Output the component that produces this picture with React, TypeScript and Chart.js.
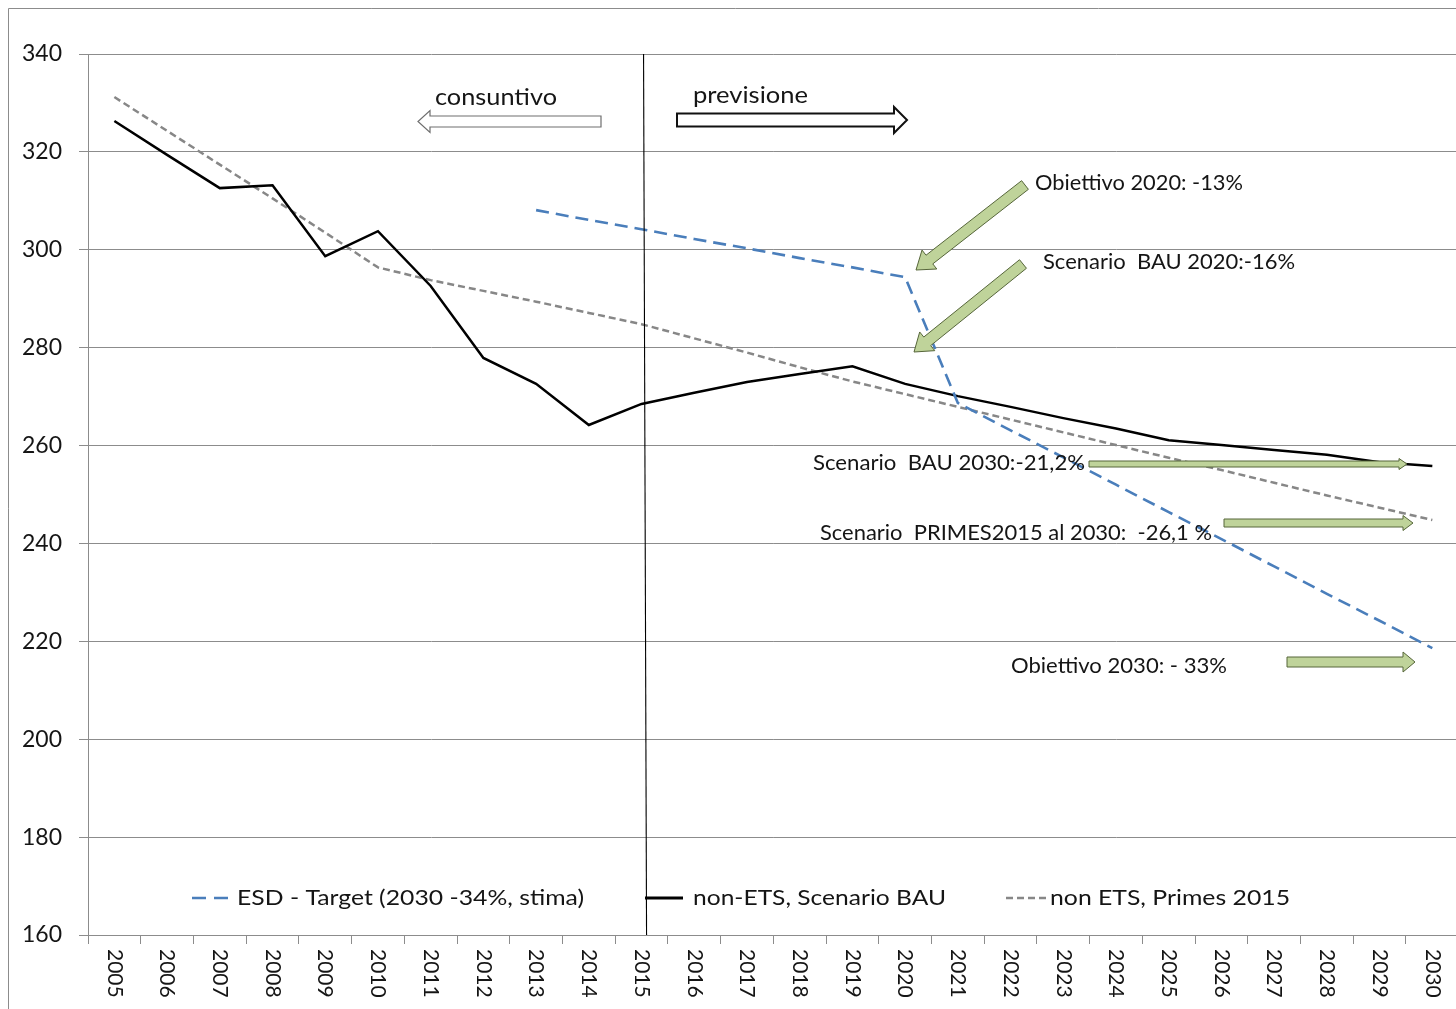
import React, { useEffect, useRef } from "react";
import { Chart, registerables } from "chart.js";

Chart.register(...registerables);

const years = [
  "2005", "2006", "2007", "2008", "2009", "2010", "2011", "2012", "2013",
  "2014", "2015", "2016", "2017", "2018", "2019", "2020", "2021", "2022",
  "2023", "2024", "2025", "2026", "2027", "2028", "2029", "2030",
];

const esdTarget: (number | null)[] = [
  null, null, null, null, null, null, null, null, 308.1,
  306.1, 304.2, 302.2, 300.3, 298.3, 296.4, 294.4, 268.7, 263.1,
  257.6, 252.0, 246.4, 240.9, 235.3, 229.7, 224.2, 218.6,
];

const bauScenario = [
  326.3, 319.4, 312.6, 313.2, 298.7, 303.8, 292.6, 277.9, 272.6,
  264.2, 268.5, 270.8, 273.0, 274.6, 276.2, 272.6, 270.1, 267.9,
  265.6, 263.5, 261.1, 260.1, 259.1, 258.1, 256.6, 255.8,
];

const primes2015 = [
  331.2, 324.3, 317.4, 310.5, 303.5, 296.4, 293.8, 291.6, 289.4,
  287.1, 284.8, 281.9, 279.0, 276.0, 273.1, 270.5, 267.9, 265.3,
  262.7, 260.1, 257.5, 255.0, 252.4, 249.8, 247.3, 244.8,
];

const seriesNames = [
  "ESD - Target (2030 -34%, stima)",
  "non-ETS, Scenario BAU",
  "non ETS, Primes 2015",
];

const yMin = 160;
const yMax = 340;
const yStep = 20;

const phaseLabels = ["consuntivo", "previsione"];
const noteLabels = [
  "Obiettivo 2020: -13%",
  "Scenario  BAU 2020:-16%",
  "Scenario  BAU 2030:-21,2%",
  "Scenario  PRIMES2015 al 2030:  -26,1 %",
  "Obiettivo 2030: - 33%",
];

const FONT = "Lato, 'Open Sans', 'DejaVu Sans', sans-serif";
const BLUE = "#4a7ebb";
const GRAY = "#878787";
const GRID = "#8c8c8c";
const TEXT = "#151515";
const GREEN_FILL = "#bfd39a";
const GREEN_STROKE = "#56663a";

function fitText(
  ctx: CanvasRenderingContext2D,
  s: string,
  x: number,
  y: number,
  w: number,
  size: number
) {
  ctx.save();
  ctx.font = `${size}px ${FONT}`;
  ctx.fillStyle = TEXT;
  ctx.textAlign = "left";
  ctx.textBaseline = "middle";
  const m = ctx.measureText(s).width;
  const k = m > 0 ? w / m : 1;
  ctx.translate(x, y);
  ctx.scale(k, 1);
  ctx.fillText(s, 0, 0);
  ctx.restore();
}

function arrow(
  ctx: CanvasRenderingContext2D,
  x1: number,
  y1: number,
  x2: number,
  y2: number,
  sw: number,
  hw: number,
  hl: number,
  fill: string,
  stroke: string,
  lw: number
) {
  const dx = x2 - x1;
  const dy = y2 - y1;
  const len = Math.hypot(dx, dy);
  const ux = dx / len;
  const uy = dy / len;
  const nx = -uy;
  const ny = ux;
  const bx = x2 - ux * hl;
  const by = y2 - uy * hl;
  ctx.save();
  ctx.beginPath();
  ctx.moveTo(x1 + nx * sw / 2, y1 + ny * sw / 2);
  ctx.lineTo(bx + nx * sw / 2, by + ny * sw / 2);
  ctx.lineTo(bx + nx * hw / 2, by + ny * hw / 2);
  ctx.lineTo(x2, y2);
  ctx.lineTo(bx - nx * hw / 2, by - ny * hw / 2);
  ctx.lineTo(bx - nx * sw / 2, by - ny * sw / 2);
  ctx.lineTo(x1 - nx * sw / 2, y1 - ny * sw / 2);
  ctx.closePath();
  ctx.fillStyle = fill;
  ctx.fill();
  ctx.lineWidth = lw;
  ctx.strokeStyle = stroke;
  ctx.lineJoin = "miter";
  ctx.stroke();
  ctx.restore();
}

const decorPlugin = {
  id: "decor",
  beforeDraw(chart: any) {
    const ctx = chart.ctx as CanvasRenderingContext2D;
    ctx.save();
    ctx.fillStyle = "#ffffff";
    ctx.fillRect(0, 0, chart.width, chart.height);
    ctx.strokeStyle = GRID;
    ctx.lineWidth = 1;
    ctx.beginPath();
    ctx.moveTo(8.5, chart.height);
    ctx.lineTo(8.5, 8.5);
    ctx.lineTo(chart.width, 8.5);
    ctx.stroke();
    ctx.restore();
  },
  afterDraw(chart: any) {
    const ctx = chart.ctx as CanvasRenderingContext2D;
    const xs = chart.scales.x;
    const area = chart.chartArea;

    // rotated year labels (reading top to bottom)
    ctx.save();
    ctx.font = `21px ${FONT}`;
    ctx.fillStyle = TEXT;
    ctx.textAlign = "left";
    ctx.textBaseline = "middle";
    years.forEach((lab, i) => {
      const px = xs.getPixelForValue(i);
      ctx.save();
      ctx.translate(px, area.bottom + 14);
      ctx.rotate(Math.PI / 2);
      ctx.fillText(lab, 0, 0);
      ctx.restore();
    });
    ctx.restore();

    // vertical separator at 2015
    const sx = xs.getPixelForValue(years.indexOf("2015"));
    ctx.save();
    ctx.strokeStyle = "#000";
    ctx.lineWidth = 1.1;
    ctx.beginPath();
    ctx.moveTo(sx + 2, area.top);
    ctx.lineTo(sx + 5, area.bottom);
    ctx.stroke();
    ctx.restore();

    // phase arrows
    arrow(ctx, 601, 121.5, 418, 121.5, 11, 22, 12, "#ffffff", "#6e6e6e", 1.2);
    arrow(ctx, 677, 120, 907, 120, 13, 26, 13, "#ffffff", "#111111", 2);
    fitText(ctx, phaseLabels[0], 435, 97, 122, 24);
    fitText(ctx, phaseLabels[1], 693, 95, 115, 24);

    // green note arrows
    arrow(ctx, 1025, 185, 916, 270, 11, 24, 17, GREEN_FILL, GREEN_STROKE, 1);
    arrow(ctx, 1023, 264, 914, 352, 11, 24, 17, GREEN_FILL, GREEN_STROKE, 1);
    arrow(ctx, 1089, 464, 1407, 464, 6, 11, 8, GREEN_FILL, GREEN_STROKE, 1);
    arrow(ctx, 1224, 523, 1413, 523, 8, 15, 10, GREEN_FILL, GREEN_STROKE, 1);
    arrow(ctx, 1287, 662, 1415, 662, 10, 20, 12, GREEN_FILL, GREEN_STROKE, 1);

    fitText(ctx, noteLabels[0], 1035, 183, 208, 21);
    fitText(ctx, noteLabels[1], 1043, 262, 252, 21);
    fitText(ctx, noteLabels[2], 813, 463, 272, 21);
    fitText(ctx, noteLabels[3], 820, 533, 392, 21);
    fitText(ctx, noteLabels[4], 1011, 666, 216, 21);

    // legend inside plot
    const ly = 898;
    ctx.save();
    ctx.lineCap = "butt";
    ctx.lineWidth = 2.6;
    ctx.strokeStyle = BLUE;
    ctx.setLineDash([14, 8]);
    ctx.beginPath();
    ctx.moveTo(192, ly);
    ctx.lineTo(229, ly);
    ctx.stroke();
    ctx.setLineDash([]);
    ctx.strokeStyle = "#000";
    ctx.lineWidth = 3;
    ctx.beginPath();
    ctx.moveTo(645, ly);
    ctx.lineTo(683, ly);
    ctx.stroke();
    ctx.strokeStyle = GRAY;
    ctx.lineWidth = 2.4;
    ctx.setLineDash([7, 4]);
    ctx.beginPath();
    ctx.moveTo(1006, ly);
    ctx.lineTo(1048, ly);
    ctx.stroke();
    ctx.restore();
    fitText(ctx, seriesNames[0], 237, ly, 347, 22);
    fitText(ctx, seriesNames[1], 693, ly, 253, 22);
    fitText(ctx, seriesNames[2], 1050, ly, 240, 22);
  },
};

export default function App() {
  const ref = useRef<HTMLCanvasElement | null>(null);

  useEffect(() => {
    if (!ref.current) return;
    const chart = new Chart(ref.current, {
      type: "line",
      data: {
        labels: years,
        datasets: [
          {
            label: seriesNames[0],
            data: esdTarget,
            borderColor: BLUE,
            borderWidth: 2.6,
            borderDash: [13, 7],
            pointRadius: 0,
            fill: false,
            tension: 0,
          },
          {
            label: seriesNames[1],
            data: bauScenario,
            borderColor: "#000000",
            borderWidth: 2.5,
            pointRadius: 0,
            fill: false,
            tension: 0,
          },
          {
            label: seriesNames[2],
            data: primes2015,
            borderColor: GRAY,
            borderWidth: 2.5,
            borderDash: [7, 4],
            pointRadius: 0,
            fill: false,
            tension: 0,
          },
        ],
      },
      options: {
        responsive: false,
        animation: false,
        devicePixelRatio: 1,
        layout: { padding: { top: 54, right: 3.3, left: 0, bottom: 0 } },
        plugins: {
          legend: { display: false },
          tooltip: { enabled: false },
          title: { display: false },
        },
        scales: {
          x: {
            type: "category",
            offset: true,
            grid: {
              offset: true,
              drawOnChartArea: false,
              drawTicks: true,
              tickLength: 9,
              color: GRID,
            },
            border: { display: true, color: GRID },
            ticks: { display: false },
            afterFit: (s: any) => {
              s.height = 74;
            },
          },
          y: {
            min: yMin,
            max: yMax,
            ticks: {
              stepSize: yStep,
              color: TEXT,
              font: { family: FONT, size: 23 },
              padding: 17,
            },
            grid: { color: GRID, tickLength: 9, lineWidth: 1 },
            border: { display: true, color: GRID },
            afterFit: (s: any) => {
              s.width = 88;
            },
          },
        },
      } as any,
      plugins: [decorPlugin],
    });
    return () => chart.destroy();
  }, []);

  return (
    <div
      style={{
        position: "absolute",
        left: 0,
        top: 0,
        width: 1456,
        height: 1009,
        overflow: "hidden",
        background: "#fff",
      }}
    >
      <canvas
        ref={ref}
        width={1462}
        height={1009}
        style={{ display: "block", width: 1462, height: 1009 }}
      />
    </div>
  );
}
